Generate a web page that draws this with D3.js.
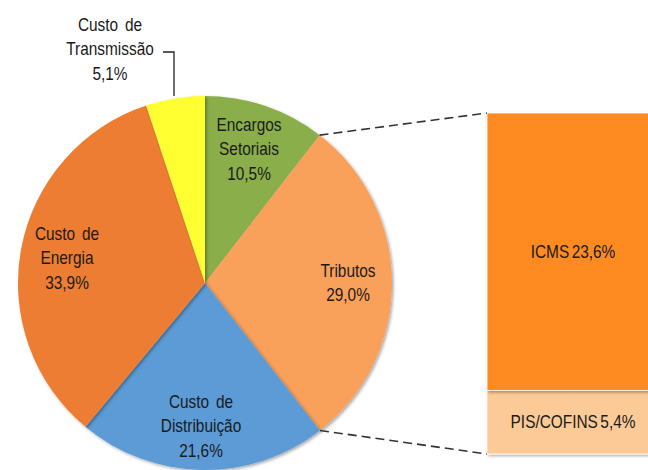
<!DOCTYPE html>
<meta charset="utf-8">
<style>
  body { margin: 0; background: #fff; }
  text { font-family: "Liberation Sans", Arial, sans-serif; fill: #1a1a1a; }
</style>
<body>
<script src="https://d3js.org/d3.v7.min.js"></script>
<script>
  // pie slices, clockwise from 12 o'clock
  const sliceNames = [["Encargos", "Setoriais"], ["Tributos"], ["Custo de", "Distribuição"], ["Custo de", "Energia"], ["Custo de", "Transmissão"]];
  const sliceValues = [10.5, 29.0, 21.6, 33.9, 5.1];
  const sliceColors = ["#8aae4a", "#f9a05a", "#5b9bd5", "#ed7d31", "#ffff33"];

  // breakdown of "Tributos"
  const taxNames = ["PIS/COFINS", "ICMS"];
  const taxValues = [5.4, 23.6];
  const taxColors = ["#fbca96", "#fd8b22"];

  const fmt = v => v.toFixed(1).replace(".", ",") + "%";

  const width = 648, height = 470;
  const cx = 205, cy = 283, r = 187;
  const fontSize = 17.5, squeeze = 0.88;

  const svg = d3.select("body").append("svg")
      .attr("width", width)
      .attr("height", height);

  const defs = svg.append("defs");
  const shadow = defs.append("filter").attr("id", "shadow")
      .attr("x", "-10%").attr("y", "-10%").attr("width", "120%").attr("height", "120%");
  shadow.append("feDropShadow")
      .attr("dx", 1.5).attr("dy", 1.5).attr("stdDeviation", 1.5)
      .attr("flood-color", "#000").attr("flood-opacity", 0.35);

  // pie
  const pie = d3.pie().sort(null).value(d => d)(sliceValues);
  const arc = d3.arc().innerRadius(0).outerRadius(r);

  const g = svg.append("g").attr("transform", `translate(${cx},${cy})`);
  g.selectAll("path")
    .data(pie)
    .join("path")
      .attr("d", arc)
      .attr("fill", (d, i) => sliceColors[i])
      .attr("filter", "url(#shadow)");

  // label positions (relative to pie centre) for the first line of each label
  const labelPos = [[44, -152], [143, -6], [-4, 125], [-138, -43], [-95, -252]];
  const lineH = 24.5;
  pie.forEach((d, i) => {
    const lines = sliceNames[i].concat([fmt(sliceValues[i])]);
    const t = g.append("text")
        .attr("text-anchor", "middle")
        .attr("font-size", fontSize)
        .attr("word-spacing", 3)
        .attr("transform", `translate(${labelPos[i][0]},${labelPos[i][1]}) scale(${squeeze},1)`);
    lines.forEach((s, k) => {
      t.append("tspan").attr("x", 0).attr("y", k * lineH).text(s);
    });
  });

  // leader line for Custo de Transmissão
  g.append("path")
    .attr("d", `M${-42},${-231}H${-31}V${-187}`)
    .attr("fill", "none")
    .attr("stroke", "#222")
    .attr("stroke-width", 1.3);

  // stacked bar for Tributos
  const barX = 487, barW = 172, barTop = 113, barBottom = 454;
  const y = d3.scaleLinear()
      .domain([0, d3.sum(taxValues)])
      .range([barBottom, barTop]);

  let acc = 0;
  const stacked = taxValues.map((v, i) => {
    const s = {name: taxNames[i], value: v, y0: acc, y1: acc + v, color: taxColors[i]};
    acc += v;
    return s;
  });

  const bars = svg.append("g");
  bars.selectAll("rect")
    .data(stacked)
    .join("rect")
      .attr("x", barX)
      .attr("width", barW)
      .attr("y", d => y(d.y1))
      .attr("height", d => y(d.y0) - y(d.y1))
      .attr("fill", d => d.color)
      .attr("stroke", "#fff")
      .attr("stroke-width", 0.8)
      .attr("filter", "url(#shadow)");

  bars.selectAll("text")
    .data(stacked)
    .join("text")
      .attr("text-anchor", "middle")
      .attr("font-size", fontSize)
      .attr("word-spacing", -2)
      .attr("transform", d => `translate(573,${(y(d.y0) + y(d.y1)) / 2 + 6}) scale(${squeeze},1)`)
      .text(d => d.name + " " + fmt(d.value));

  // dashed connectors from Tributos slice edges to the bar
  const trib = pie[1];
  const edge = a => [cx + r * Math.sin(a), cy - r * Math.cos(a)];
  const p1 = edge(trib.startAngle), p2 = edge(trib.endAngle);
  svg.append("line")
    .attr("x1", p1[0]).attr("y1", p1[1])
    .attr("x2", barX).attr("y2", y(d3.sum(taxValues)))
    .attr("stroke", "#333").attr("stroke-width", 1.6)
    .attr("stroke-dasharray", "9,5");
  svg.append("line")
    .attr("x1", p2[0]).attr("y1", p2[1])
    .attr("x2", barX).attr("y2", y(0))
    .attr("stroke", "#333").attr("stroke-width", 1.6)
    .attr("stroke-dasharray", "9,5");
</script>
</body>
